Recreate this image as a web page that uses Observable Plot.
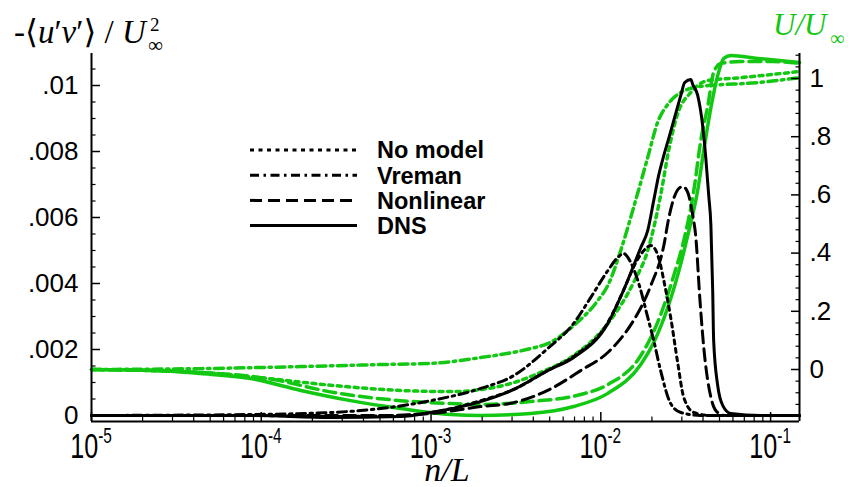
<!DOCTYPE html>
<html>
<head>
<meta charset="utf-8">
<script src="https://cdn.jsdelivr.net/npm/d3@7"></script>
<script src="https://cdn.jsdelivr.net/npm/@observablehq/plot@0.6"></script>
<style>
  html, body { margin: 0; padding: 0; background: #fff; }
  #chart { position: relative; width: 848px; height: 487px; }
</style>
</head>
<body>
<div id="chart"></div>
<script>
// ---- Reynolds shear stress  -<u'v'>/U∞²  against wall distance n/L ----
const stressNoModelN = [1e-5, 8.65e-5, 2.56e-4, 6.62e-4, 9.96e-4, 1.96e-3, 3.07e-3, 4.86e-3, 6.92e-3, 1.10e-2, 1.36e-2, 1.61e-2, 1.84e-2, 1.97e-2, 2.11e-2, 2.25e-2, 2.35e-2, 2.58e-2, 2.84e-2, 3.08e-2, 3.53e-2, 4.45e-2, 0.148];
const stressNoModel  = [0, 0, -0.00003, 0, 0.00009, 0.00045, 0.00079, 0.00136, 0.00179, 0.00282, 0.00379, 0.00464, 0.00506, 0.00515, 0.00500, 0.00455, 0.00409, 0.00297, 0.00158, 0.00055, 0.00009, 0, 0];

const stressVremanN = [1e-5, 8.65e-5, 2.56e-4, 5.05e-4, 9.96e-4, 1.96e-3, 3.07e-3, 4.86e-3, 6.92e-3, 8.73e-3, 1.10e-2, 1.26e-2, 1.36e-2, 1.50e-2, 1.72e-2, 1.89e-2, 2.05e-2, 2.25e-2, 2.58e-2, 2.96e-2, 3.88e-2, 0.148];
const stressVreman  = [0, 0.00003, 0.00009, 0.00021, 0.00045, 0.00082, 0.00121, 0.00203, 0.00279, 0.00358, 0.00439, 0.00479, 0.00491, 0.00464, 0.00379, 0.00297, 0.00227, 0.00136, 0.00036, 0.00009, 0, 0];

const stressNonlinearN = [1e-5, 1.71e-4, 5.05e-4, 9.96e-4, 1.96e-3, 3.07e-3, 4.86e-3, 7.61e-3, 1.10e-2, 1.31e-2, 1.56e-2, 1.97e-2, 2.35e-2, 2.51e-2, 2.69e-2, 2.88e-2, 3.04e-2, 3.25e-2, 3.48e-2, 3.62e-2, 3.83e-2, 4.04e-2, 4.45e-2, 4.88e-2, 5.44e-2, 0.148];
const stressNonlinear  = [0, 0, 0, 0.00006, 0.00027, 0.00039, 0.00076, 0.00136, 0.00191, 0.00233, 0.00288, 0.00394, 0.00515, 0.00597, 0.00658, 0.00688, 0.00694, 0.00676, 0.00606, 0.00545, 0.00355, 0.00206, 0.00055, 0.00009, 0, 0];

const stressDnsN = [1e-5, 8.65e-5, 2.56e-4, 6.62e-4, 9.96e-4, 1.96e-3, 3.07e-3, 4.86e-3, 6.92e-3, 1.10e-2, 1.36e-2, 1.72e-2, 1.89e-2, 2.05e-2, 2.19e-2, 2.35e-2, 2.51e-2, 2.69e-2, 2.96e-2, 3.12e-2, 3.39e-2, 3.48e-2, 3.72e-2, 3.99e-2, 4.15e-2, 4.32e-2, 4.45e-2, 4.56e-2, 4.62e-2, 4.88e-2, 5.23e-2, 5.83e-2, 8.75e-2, 0.148];
const stressDns  = [0, 0, -0.00006, -0.00003, 0.00009, 0.00042, 0.00079, 0.00136, 0.00176, 0.00279, 0.00379, 0.00509, 0.00561, 0.00652, 0.00727, 0.00788, 0.00839, 0.00894, 0.00970, 0.01009, 0.01018, 0.01003, 0.00970, 0.00873, 0.00782, 0.00667, 0.00576, 0.00379, 0.00227, 0.00091, 0.00030, 0.00006, 0, 0];

// ---- Mean streamwise velocity  U/U∞  (right-hand axis) ----
const velNoModelN = [1e-5, 4.38e-5, 1.09e-4, 2.67e-4, 6.62e-4, 1.31e-3, 1.96e-3, 3.07e-3, 4.42e-3, 6.92e-3, 1.10e-2, 1.56e-2, 1.89e-2, 2.25e-2, 2.51e-2, 2.84e-2, 3.39e-2, 4.27e-2, 6.67e-2, 0.148];
const velNoModel  = [0, -0.010, -0.031, -0.055, -0.072, -0.076, -0.069, -0.045, -0.010, 0.048, 0.158, 0.299, 0.409, 0.598, 0.753, 0.880, 0.952, 0.993, 1.003, 1.024];

const velVremanN = [1e-5, 4.38e-5, 1.71e-4, 5.05e-4, 9.96e-4, 1.96e-3, 3.86e-3, 4.86e-3, 6.92e-3, 9.60e-3, 1.10e-2, 1.31e-2, 1.56e-2, 1.89e-2, 2.16e-2, 2.48e-2, 2.96e-2, 3.88e-2, 8.41e-2, 0.148];
const velVreman  = [0, 0.003, 0.010, 0.017, 0.021, 0.041, 0.072, 0.089, 0.151, 0.237, 0.289, 0.409, 0.557, 0.729, 0.849, 0.911, 0.952, 0.973, 0.986, 1.003];

const velNonlinearN = [1e-5, 4.38e-5, 1.09e-4, 2.67e-4, 6.62e-4, 1.31e-3, 1.96e-3, 3.86e-3, 7.61e-3, 1.10e-2, 1.72e-2, 2.16e-2, 2.69e-2, 3.08e-2, 3.53e-2, 3.88e-2, 4.27e-2, 4.62e-2, 5.09e-2, 6.67e-2, 0.104, 0.148];
const velNonlinear  = [0, -0.010, -0.031, -0.079, -0.107, -0.117, -0.120, -0.110, -0.086, -0.052, 0.048, 0.162, 0.323, 0.443, 0.615, 0.787, 0.907, 1.021, 1.052, 1.058, 1.058, 1.052];

const velDnsN = [1e-5, 2.23e-5, 4.38e-5, 8.65e-5, 1.71e-4, 3.36e-4, 6.62e-4, 1.31e-3, 1.96e-3, 3.86e-3, 6.92e-3, 1.10e-2, 1.72e-2, 2.05e-2, 2.48e-2, 2.96e-2, 3.25e-2, 3.72e-2, 4.04e-2, 4.45e-2, 4.88e-2, 5.30e-2, 5.83e-2, 8.41e-2, 0.148];
const velDns  = [0, -0.003, -0.014, -0.031, -0.072, -0.107, -0.134, -0.155, -0.158, -0.151, -0.127, -0.082, 0.017, 0.093, 0.213, 0.364, 0.460, 0.615, 0.753, 0.900, 1.010, 1.069, 1.079, 1.069, 1.055];

// ---- legend entries and tick labels ----
const models = ["No model", "Vreman", "Nonlinear", "DNS"];
const xTickExponents = [-5, -4, -3, -2, -1];
const stressTicks = [0, 0.002, 0.004, 0.006, 0.008, 0.01];
const stressTickLabels = ["0", ".002", ".004", ".006", ".008", ".01"];
const velTicks = [0, 0.2, 0.4, 0.6, 0.8, 1];
const velTickLabels = ["0", ".2", ".4", ".6", ".8", "1"];

// ---- scales and styling ----
const xDomain = [1e-5, 0.148];
const stressDomain = [-0.000182, 0.01097];
const velDomain = [-0.1787, 1.0859];
const GREEN = "#12c812";
const dashes = {"No model": "4,4.5", "Vreman": "9,4.5,2.5,4.5", "Nonlinear": "12,6", "DNS": null};

// the right-hand velocity axis shares the plot's y scale through a linear map
const velToY = d3.scaleLinear().domain(velDomain).range(stressDomain);

const rows = (ns, vs) => ns.map((n, i) => ({n, v: vs[i]}));

const stressSeries = [
  ["No model", stressNoModelN, stressNoModel],
  ["Vreman", stressVremanN, stressVreman],
  ["Nonlinear", stressNonlinearN, stressNonlinear],
  ["DNS", stressDnsN, stressDns]
];
const velSeries = [
  ["No model", velNoModelN, velNoModel],
  ["Vreman", velVremanN, velVreman],
  ["Nonlinear", velNonlinearN, velNonlinear],
  ["DNS", velDnsN, velDns]
];

// minor tick positions
const xMinor = [];
for (let e = -5; e <= -1; e++) for (let m = 2; m <= 9; m++) {
  const v = m * Math.pow(10, e);
  if (v <= xDomain[1]) xMinor.push(v);
}
const stressMinor = [];
for (let i = 0; i <= 21; i++) if (i % 4 !== 0) stressMinor.push(i * 0.0005);
const velMinor = [];
for (let i = -4; i <= 27; i++) if (i % 5 !== 0) velMinor.push(velToY(i * 0.04));

const stressLabelOf = new Map(stressTicks.map((t, i) => [t, stressTickLabels[i]]));
const velTickY = velTicks.map(velToY);
const velLabelOf = new Map(velTickY.map((t, i) => [t, velTickLabels[i]]));
const blank = () => "";

const chart = Plot.plot({
  width: 848,
  height: 487,
  marginLeft: 91,
  marginRight: 49,
  marginTop: 53,
  marginBottom: 66,
  style: {fontFamily: "'Liberation Sans', Arial, sans-serif", background: "#fff", color: "#000", overflow: "visible"},
  x: {type: "log", domain: xDomain, axis: null, label: null},
  y: {domain: stressDomain, axis: null, label: null},
  marks: [
    ...velSeries.map(([m, ns, us]) =>
      Plot.line(rows(ns, us.map(velToY)), {x: "n", y: "v", stroke: GREEN, strokeWidth: 3.5,
        strokeDasharray: dashes[m], curve: "monotone-x"})),
    ...stressSeries.map(([m, ns, vs]) =>
      Plot.line(rows(ns, vs), {x: "n", y: "v", stroke: "#000", strokeWidth: 3,
        strokeDasharray: dashes[m], curve: "monotone-x"})),
    Plot.ruleX(xDomain, {stroke: "#000", strokeWidth: 2}),
    Plot.ruleY([stressDomain[0]], {stroke: "#000", strokeWidth: 2}),
    Plot.axisX(xTickExponents.map(e => Math.pow(10, e)), {tickSize: -9, strokeWidth: 1.5, tickFormat: blank}),
    Plot.axisX(xMinor, {tickSize: -4.5, strokeWidth: 1.2, tickFormat: blank}),
    Plot.axisY(stressTicks, {anchor: "left", tickSize: -9, strokeWidth: 1.5, tickFormat: blank}),
    Plot.axisY(stressMinor, {anchor: "left", tickSize: -4.5, strokeWidth: 1.2, tickFormat: blank}),
    Plot.axisY(stressTicks, {anchor: "left", tickSize: 0, tickPadding: 13, fontSize: 26,
      tickFormat: d => stressLabelOf.get(d)}),
    Plot.axisY(velTickY, {anchor: "right", tickSize: -9, strokeWidth: 1.5, tickFormat: blank}),
    Plot.axisY(velMinor, {anchor: "right", tickSize: -4.5, strokeWidth: 1.2, tickFormat: blank}),
    Plot.axisY(velTickY, {anchor: "right", tickSize: 0, tickPadding: 10, fontSize: 26,
      tickFormat: d => velLabelOf.get(d)})
  ]
});

document.getElementById("chart").appendChild(chart);

const svg = d3.select(chart);
const xs = chart.scale("x");
const sans = "'Liberation Sans', Arial, sans-serif";
const serif = "'Liberation Serif', 'DejaVu Serif', 'Times New Roman', serif";

// decade labels 10^e on the log axis
const xLab = svg.append("g").attr("font-family", sans).attr("fill", "#000").attr("text-anchor", "middle");
xTickExponents.forEach(e => {
  const t = xLab.append("text")
    .attr("transform", `translate(${xs.apply(Math.pow(10, e))},458) scale(0.7,1)`);
  t.append("tspan").attr("font-size", 36).text("10");
  t.append("tspan").attr("font-size", 22).attr("dy", -15).text(String(e));
});

// axis titles
svg.append("text")
  .attr("x", 447).attr("y", 481).attr("text-anchor", "middle")
  .attr("font-family", serif).attr("font-style", "italic").attr("font-size", 34)
  .text("n/L");

const titles = svg.append("g").attr("text-anchor", "start").attr("font-family", serif);

const lt = titles.append("text").attr("x", 14).attr("y", 43).attr("font-size", 33).attr("fill", "#000");
lt.append("tspan").text("-⟨");
lt.append("tspan").attr("font-style", "italic").text("u");
lt.append("tspan").text("′");
lt.append("tspan").attr("font-style", "italic").text("v");
lt.append("tspan").text("′⟩ / ");
lt.append("tspan").attr("font-style", "italic").text("U");
const ltBox = lt.node().getBBox();
const ltX = ltBox.x + ltBox.width + 2;
titles.append("text").attr("x", ltX).attr("y", 31).attr("font-size", 19).text("2");
titles.append("text").attr("x", ltX - 2).attr("y", 52).attr("font-size", 21).text("∞");

const rt = titles.append("text").attr("x", 773).attr("y", 35)
  .attr("font-style", "italic").attr("font-size", 31).attr("fill", GREEN)
  .text("U/U");
const rtBox = rt.node().getBBox();
titles.append("text").attr("x", rtBox.x + rtBox.width + 1).attr("y", 45)
  .attr("font-size", 20).attr("fill", GREEN).text("∞");

// legend
const lg = svg.append("g").attr("text-anchor", "start");
models.forEach((m, i) => {
  const y = 150 + i * 25.2;
  lg.append("line").attr("x1", 250).attr("x2", 357).attr("y1", y).attr("y2", y)
    .attr("stroke", "#000").attr("stroke-width", 3)
    .attr("stroke-dasharray", dashes[m]);
  lg.append("text").attr("x", 377).attr("y", y).attr("dy", "0.36em")
    .attr("font-family", sans).attr("font-weight", "bold")
    .attr("font-size", 23.5).text(m);
});
</script>
</body>
</html>
